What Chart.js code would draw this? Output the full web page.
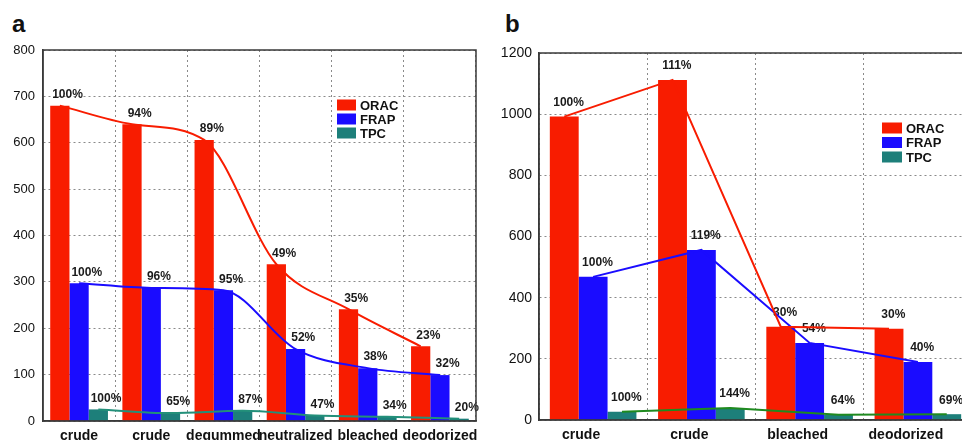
<!DOCTYPE html>
<html>
<head>
<meta charset="utf-8">
<script src="https://cdn.jsdelivr.net/npm/chart.js"></script>
<style>
  html, body { margin: 0; padding: 0; background: #fff; overflow: hidden; width: 962px; height: 440px; }
  .panel { position: absolute; top: 0; }
  .letter { position: absolute; top: 10px; font: bold 24px "Liberation Sans", Arial, sans-serif; line-height: 28px; color: #111; }
</style>
</head>
<body>
<div class="letter" style="left:12px">a</div>
<div class="letter" style="left:505px">b</div>
<canvas id="chart-a" class="panel" style="left:0px" width="490" height="470"></canvas>
<canvas id="lines-a" class="panel" style="left:0px" width="490" height="470"></canvas>
<canvas id="chart-b" class="panel" style="left:490px" width="500" height="470"></canvas>
<canvas id="lines-b" class="panel" style="left:490px" width="500" height="470"></canvas>
<script>
// Panel a: six processing stages
const categoriesA = ['crude', 'crude', 'degummed', 'neutralized', 'bleached', 'deodorized'];
const oracA = [680, 640, 606, 338, 241, 161];
const frapA = [297, 287, 282, 155, 114, 99];
const tpcA = [25, 17, 22, 12, 9, 5];
const oracPctA = ['100%', '94%', '89%', '49%', '35%', '23%'];
const frapPctA = ['100%', '96%', '95%', '52%', '38%', '32%'];
const tpcPctA = ['100%', '65%', '87%', '47%', '34%', '20%'];

// Panel b: four processing stages
const categoriesB = ['crude', 'crude', 'bleached', 'deodorized'];
const oracB = [992, 1112, 305, 298];
const frapB = [468, 556, 252, 190];
const tpcB = [27, 39, 17, 19];
const oracPctB = ['100%', '111%', '30%', '30%'];
const frapPctB = ['100%', '119%', '54%', '40%'];
const tpcPctB = ['100%', '144%', '64%', '69%'];

const seriesNames = ['ORAC', 'FRAP', 'TPC'];
const RED = '#f81c00';
const BLUE = '#1a0cff';
const TEAL = '#1d7f7a';
const FONT = '"Liberation Sans", Arial, sans-serif';

// percentage labels above each bar
const pctLabels = {
    id: 'pctLabels',
    afterDatasetsDraw(chart, args, opts) {
        const ctx = chart.ctx;
        ctx.save();
        ctx.font = 'bold 12px ' + FONT;
        ctx.fillStyle = '#1a1a1a';
        ctx.textAlign = 'center';
        ctx.textBaseline = 'bottom';
        opts.labels.forEach((list, i) => {
            const meta = chart.getDatasetMeta(i);
            meta.data.forEach((el, j) => {
                ctx.fillText(list[j], el.x + el.width * opts.dx, el.y - opts.dy);
            });
        });
        ctx.restore();
    }
};

// legend box drawn inside the plot
const innerLegend = {
    id: 'innerLegend',
    afterDraw(chart, args, opts) {
        const ctx = chart.ctx;
        ctx.save();
        ctx.font = 'bold ' + opts.size + 'px ' + FONT;
        ctx.textBaseline = 'middle';
        ctx.textAlign = 'left';
        chart.data.datasets.forEach((ds, i) => {
            const y = opts.y + i * opts.step;
            ctx.fillStyle = ds.backgroundColor;
            ctx.fillRect(opts.x, y - 5.5, opts.w, 11);
            ctx.fillStyle = '#111';
            ctx.fillText(ds.label, opts.x + opts.w + 4, y + 1);
        });
        ctx.restore();
    }
};

// solid frame around the plot area
const frame = {
    id: 'frame',
    afterDatasetsDraw(chart) {
        const a = chart.chartArea;
        const ctx = chart.ctx;
        ctx.save();
        ctx.strokeStyle = '#3a3a3a';
        ctx.lineWidth = 1.5;
        ctx.strokeRect(a.left, a.top, a.right - a.left, a.bottom - a.top);
        ctx.restore();
    }
};

function makeBars(id, cfg) {
    return new Chart(document.getElementById(id), {
        type: 'bar',
        data: {
            labels: cfg.categories,
            datasets: [
                { label: seriesNames[0], data: cfg.orac, backgroundColor: RED },
                { label: seriesNames[1], data: cfg.frap, backgroundColor: BLUE },
                { label: seriesNames[2], data: cfg.tpc, backgroundColor: TEAL }
            ]
        },
        options: {
            responsive: false,
            animation: false,
            devicePixelRatio: 1,
            categoryPercentage: 0.8,
            barPercentage: 1.0,
            layout: { padding: { top: cfg.top, right: cfg.right, left: 0, bottom: 0 } },
            scales: {
                x: {
                    grid: { color: '#8a8a8a', drawTicks: false, offset: true },
                    border: { color: '#3a3a3a', width: 1.5, dash: [2, 3] },
                    ticks: {
                        color: '#111', font: { family: FONT, size: 14, weight: 'bold' },
                        padding: 7, maxRotation: 0, minRotation: 0, autoSkip: false,
                        labelOffset: cfg.xLabelShift
                    },
                    afterFit(scale) { scale.height = cfg.xHeight; }
                },
                y: {
                    min: 0, max: cfg.yMax,
                    ticks: {
                        stepSize: cfg.yStep, color: '#111', font: { family: FONT, size: cfg.yFont }, padding: cfg.yPad,
                        callback: (v) => String(v)
                    },
                    grid: { color: '#8a8a8a', drawTicks: false },
                    border: { color: '#3a3a3a', width: 1.5, dash: [2, 3] },
                    afterFit(scale) { scale.width = cfg.yWidth; }
                }
            },
            plugins: {
                legend: { display: false },
                tooltip: { enabled: false },
                pctLabels: { labels: cfg.pct, dx: cfg.dx, dy: cfg.dy },
                innerLegend: cfg.legend
            }
        },
        plugins: [pctLabels, innerLegend, frame]
    });
}

// trend lines on a transparent canvas with the same plot area,
// x is a linear index axis so each line runs over its own bar
function lineData(values, offset) {
    return values.map((v, i) => ({ x: i + offset, y: v }));
}

function makeLines(id, cfg) {
    const slot = 0.8 / 3;
    const n = cfg.categories.length;
    const common = cfg.smooth
        ? { borderWidth: 2, pointRadius: 0, cubicInterpolationMode: 'monotone' }
        : { borderWidth: 2, pointRadius: 0, tension: 0 };
    return new Chart(document.getElementById(id), {
        type: 'line',
        data: {
            datasets: [
                Object.assign({ data: lineData(cfg.tpc, slot), borderColor: cfg.tpcLine }, common),
                Object.assign({ data: lineData(cfg.orac, -slot), borderColor: RED }, common),
                Object.assign({ data: lineData(cfg.frap, 0), borderColor: BLUE }, common)
            ]
        },
        options: {
            responsive: false,
            animation: false,
            devicePixelRatio: 1,
            layout: { padding: { top: cfg.top, right: cfg.right, left: cfg.yWidth, bottom: cfg.xHeight } },
            scales: {
                x: { type: 'linear', display: false, min: -0.5, max: n - 0.5 },
                y: { display: false, min: 0, max: cfg.yMax }
            },
            plugins: { legend: { display: false }, tooltip: { enabled: false } }
        }
    });
}

const cfgA = {
    categories: categoriesA, orac: oracA, frap: frapA, tpc: tpcA,
    pct: [oracPctA, frapPctA, tpcPctA],
    tpcLine: '#23907a', smooth: true,
    yMax: 800, yStep: 100, yFont: 13, yPad: 8,
    top: 50, right: 14, yWidth: 43, xHeight: 49, xLabelShift: 0,
    dx: 0.4, dy: 5,
    legend: { x: 337, y: 105, step: 14, w: 19, size: 13 }
};

const cfgB = {
    categories: categoriesB, orac: oracB, frap: frapB, tpc: tpcB,
    pct: [oracPctB, frapPctB, tpcPctB],
    tpcLine: '#1f8a1f', smooth: false,
    yMax: 1200, yStep: 200, yFont: 14, yPad: 7,
    top: 53, right: 18, yWidth: 49, xHeight: 50, xLabelShift: -12,
    dx: 0.15, dy: 8,
    legend: { x: 392, y: 128, step: 14.5, w: 20, size: 13 }
};

makeBars('chart-a', cfgA);
makeLines('lines-a', cfgA);
makeBars('chart-b', cfgB);
makeLines('lines-b', cfgB);
</script>
</body>
</html>
